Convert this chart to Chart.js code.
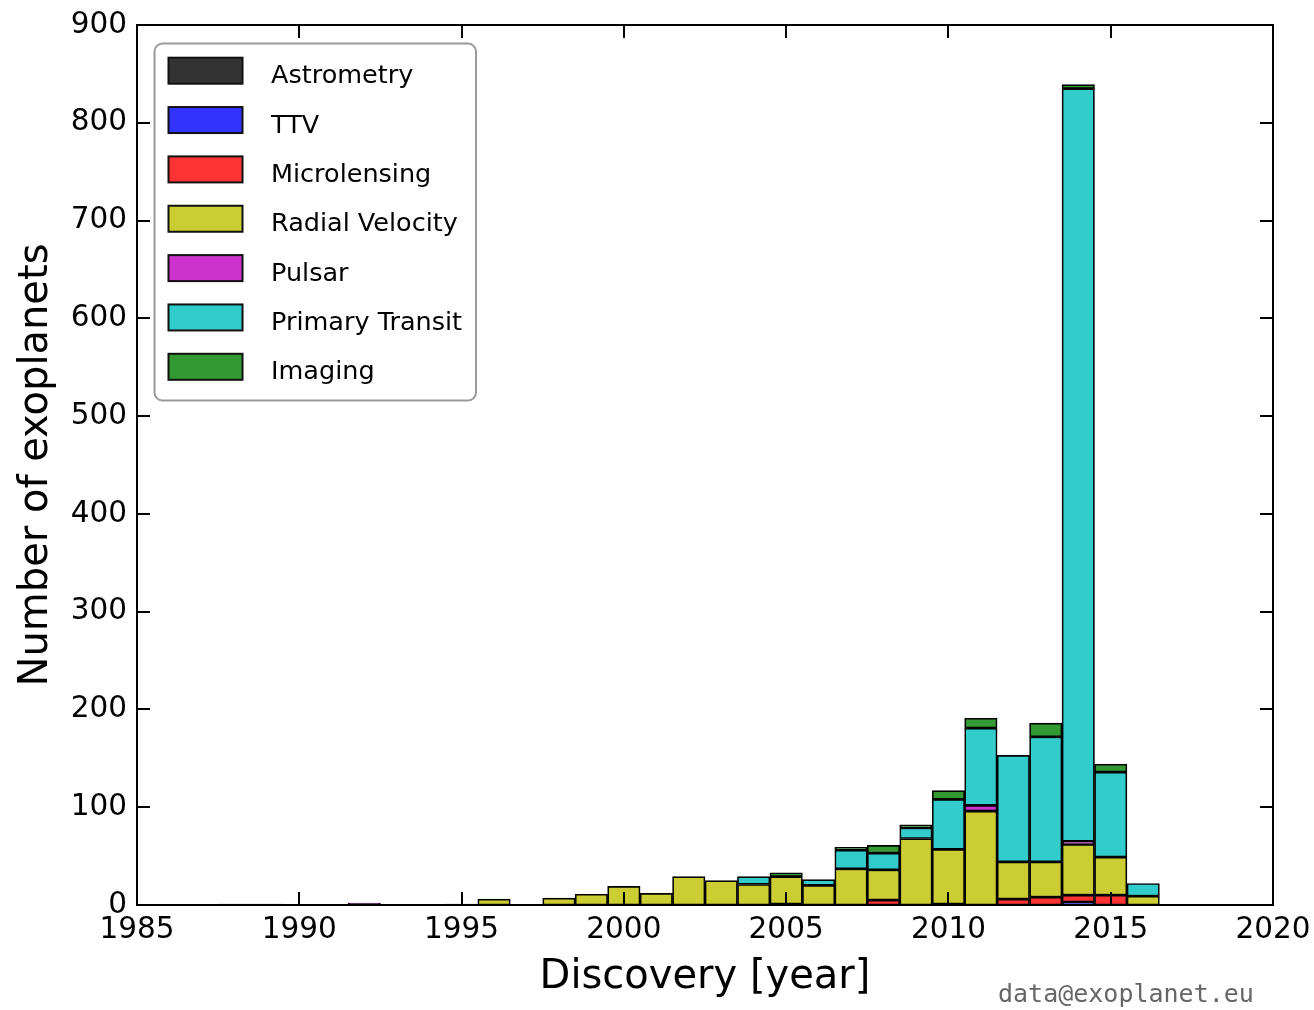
<!DOCTYPE html>
<html>
<head>
<meta charset="utf-8">
<title>Exoplanet discoveries per year</title>
<script src="https://cdn.jsdelivr.net/npm/chart.js@4/dist/chart.umd.min.js"></script>
<style>
  html, body { margin: 0; padding: 0; background: #ffffff; }
  canvas { display: block; }
</style>
</head>
<body>
<canvas id="chart" width="1314" height="1010"></canvas>
<script>
// Discovery year of each bin (one bin per year)
const years = [1988, 1989, 1992, 1995, 1996, 1998, 1999, 2000, 2001, 2002, 2003, 2004,
               2005, 2006, 2007, 2008, 2009, 2010, 2011, 2012, 2013, 2014, 2015, 2016];

// Number of planets found by each detection method, per year
const astrometry     = [0, 0, 0, 0, 0, 0, 0, 0, 0, 0, 0, 0, 0, 0, 0, 0, 0, 1, 0, 0, 0, 0, 0, 0];
const ttv            = [0, 0, 0, 0, 0, 0, 0, 0, 0, 0, 0, 0, 0, 0, 0, 0, 0, 0, 0, 0, 0, 3, 0, 0];
const microlensing   = [0, 0, 0, 0, 0, 0, 0, 0, 0, 0, 0, 0, 1, 0, 0, 5, 0, 0, 0, 6, 8, 7, 10, 0];
const radialVelocity = [1, 1, 0, 1, 6, 7, 11, 19, 12, 29, 25, 21, 28, 20, 37, 31, 68, 56, 96, 38, 36, 52, 39, 9];
const pulsar         = [0, 0, 2, 0, 0, 0, 0, 0, 0, 0, 0, 0, 0, 0, 0, 0, 0, 0, 6, 0, 0, 3, 0, 0];
const primaryTransit = [0, 0, 0, 0, 0, 0, 0, 0, 0, 0, 0, 8, 0, 6, 19, 17, 11, 51, 79, 109, 128, 770, 87, 13];
const imaging        = [0, 0, 0, 0, 0, 0, 0, 0, 0, 0, 0, 0, 4, 0, 3, 8, 3, 9, 10, 0, 14, 4, 8, 0];

// Axis ticks
const xTickValues = [1985, 1990, 1995, 2000, 2005, 2010, 2015, 2020];
const yTickValues = [0, 100, 200, 300, 400, 500, 600, 700, 800, 900];

const methods = [
  { label: 'Astrometry',      values: astrometry,     color: '#333333' },
  { label: 'TTV',             values: ttv,            color: '#3333ff' },
  { label: 'Microlensing',    values: microlensing,   color: '#ff3333' },
  { label: 'Radial Velocity', values: radialVelocity, color: '#cccc33' },
  { label: 'Pulsar',          values: pulsar,         color: '#cc33cc' },
  { label: 'Primary Transit', values: primaryTransit, color: '#33cccc' },
  { label: 'Imaging',         values: imaging,        color: '#339933' }
];

const FONT = '"DejaVu Sans", "Liberation Sans", sans-serif';
const MONO = '"DejaVu Sans Mono", "Liberation Mono", monospace';

const datasets = methods.map(m => ({
  label: m.label,
  data: years.map((y, i) => ({ x: y, y: m.values[i] })),
  backgroundColor: m.color,
  borderColor: '#000000',
  borderWidth: 1.7,
  borderSkipped: false,
  barPercentage: 1.0,
  categoryPercentage: 1.0
}));

// Frame, inward tick marks, legend box and credit line
const decorations = {
  id: 'decorations',
  afterDatasetsDraw(chart) {
    const { ctx, chartArea: a, scales } = chart;
    const tick = 13;
    ctx.save();
    ctx.strokeStyle = '#000000';
    ctx.lineWidth = 2;
    ctx.beginPath();
    for (const v of xTickValues) {
      const px = Math.round(scales.x.getPixelForValue(v));
      ctx.moveTo(px, a.bottom); ctx.lineTo(px, a.bottom - tick);
      ctx.moveTo(px, a.top);    ctx.lineTo(px, a.top + tick);
    }
    for (const v of yTickValues) {
      const py = Math.round(scales.y.getPixelForValue(v));
      ctx.moveTo(a.left, py);  ctx.lineTo(a.left + tick, py);
      ctx.moveTo(a.right, py); ctx.lineTo(a.right - tick, py);
    }
    ctx.stroke();
    ctx.strokeRect(a.left, a.top, a.right - a.left, a.bottom - a.top);
    ctx.restore();
  },
  afterDraw(chart) {
    const { ctx } = chart;
    ctx.save();
    // legend box
    const bx = 154.5, by = 43.5, bw = 321.5, bh = 357;
    ctx.beginPath();
    ctx.roundRect(bx, by, bw, bh, 8);
    ctx.fillStyle = '#ffffff';
    ctx.fill();
    ctx.lineWidth = 2;
    ctx.strokeStyle = '#9a9a9a';
    ctx.stroke();

    ctx.font = '25.5px ' + FONT;
    ctx.textAlign = 'left';
    ctx.textBaseline = 'alphabetic';
    chart.data.datasets.forEach((ds, i) => {
      const cy = 70.7 + i * 49.35;
      ctx.fillStyle = ds.backgroundColor;
      ctx.fillRect(168.5, cy - 13, 74, 26);
      ctx.lineWidth = 2;
      ctx.strokeStyle = '#111111';
      ctx.strokeRect(168.5, cy - 13, 74, 26);
      ctx.fillStyle = '#000000';
      ctx.fillText(ds.label, 271, cy + 12.5);
    });

    // data credit
    ctx.font = '25px ' + MONO;
    ctx.fillStyle = '#666666';
    ctx.fillText('data@exoplanet.eu', 998, 1002);
    ctx.restore();
  }
};

new Chart(document.getElementById('chart'), {
  type: 'bar',
  data: { datasets },
  options: {
    responsive: false,
    animation: false,
    layout: { padding: { left: 0, top: 25, right: 41, bottom: 0 } },
    plugins: {
      legend: { display: false },
      tooltip: { enabled: false }
    },
    scales: {
      x: {
        type: 'linear',
        stacked: true,
        offset: false,
        min: 1985,
        max: 2020,
        grid: { display: false, drawTicks: false, offset: false },
        border: { display: false },
        afterBuildTicks(scale) { scale.ticks = xTickValues.map(v => ({ value: v })); },
        afterFit(scale) {
          scale.height = 105;
          scale.paddingLeft = 0;
          scale.paddingRight = 0;
        },
        ticks: {
          padding: 8,
          color: '#000000',
          font: { family: FONT, size: 29.5 },
          maxRotation: 0,
          autoSkip: false,
          callback: v => String(v)
        },
        title: {
          display: true,
          text: 'Discovery [year]',
          color: '#000000',
          font: { family: FONT, size: 40 },
          padding: { top: 0, bottom: 8 }
        }
      },
      y: {
        stacked: true,
        min: 0,
        max: 900,
        grid: { display: false, drawTicks: false },
        border: { display: false },
        afterBuildTicks(scale) { scale.ticks = yTickValues.map(v => ({ value: v })); },
        afterFit(scale) {
          scale.width = 137;
          scale.paddingTop = 0;
          scale.paddingBottom = 0;
        },
        ticks: {
          padding: 10,
          color: '#000000',
          font: { family: FONT, size: 29.5 },
          callback: v => String(v)
        },
        title: {
          display: true,
          text: 'Number of exoplanets',
          color: '#000000',
          font: { family: FONT, size: 40 },
          padding: { top: 13, bottom: 0 }
        }
      }
    }
  },
  plugins: [decorations]
});
</script>
</body>
</html>
